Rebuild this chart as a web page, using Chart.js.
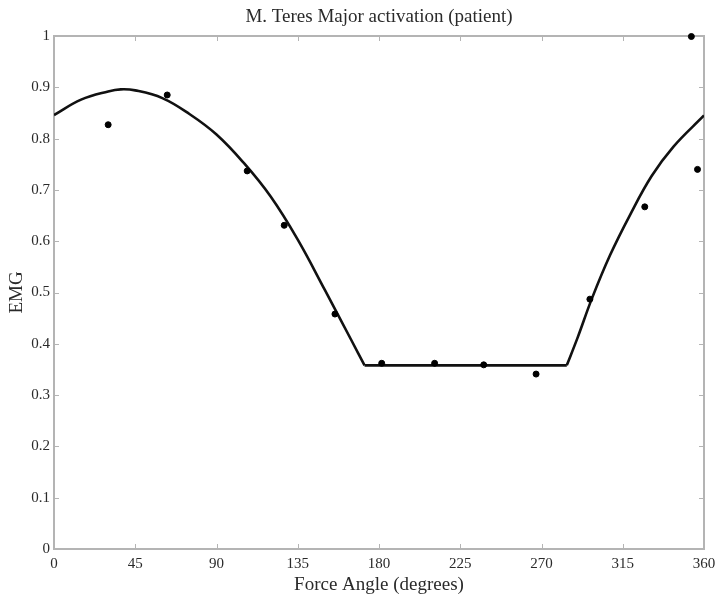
<!DOCTYPE html>
<html>
<head>
<meta charset="utf-8">
<script src="https://cdn.jsdelivr.net/npm/chart.js@4"></script>
<style>
  html, body { margin: 0; padding: 0; background: #fff; }
  #wrap { width: 716px; height: 596px; }
</style>
</head>
<body>
<div id="wrap"><canvas id="myChart"></canvas></div>
<script>
// fitted curve (falling part, floor, rising part)
const fallAngles = [0, 15, 30, 37, 45, 60, 75, 90, 105, 120, 135, 150, 165, 172];
const fallEmg = [0.846, 0.876, 0.892, 0.896, 0.894, 0.879, 0.848, 0.808, 0.753, 0.687, 0.603, 0.505, 0.405, 0.358];
const floorAngles = [172, 284];
const floorEmg = [0.358, 0.358];
const riseAngles = [284, 290, 298, 308, 319, 331, 343, 360];
const riseEmg = [0.358, 0.412, 0.489, 0.573, 0.651, 0.727, 0.784, 0.845];

// measured points
const dotAngles = [30, 62.7, 107, 127.5, 155.6, 181.5, 210.8, 238, 267, 296.8, 327.2, 353, 356.4];
const dotEmg = [0.827, 0.885, 0.737, 0.631, 0.458, 0.362, 0.362, 0.359, 0.341, 0.487, 0.667, 0.999, 0.74];

const xTicks = [0, 45, 90, 135, 180, 225, 270, 315, 360];

const chartTitle = "M. Teres Major activation (patient)";
const frameColor = "#b4b4b4";
const textColor = "#2a2a2a";
const serif = "'Liberation Serif', 'DejaVu Serif', serif";

const toPoints = (xs, ys) => xs.map((x, i) => ({ x: x, y: ys[i] }));

const curveStyle = {
    type: "line",
    borderColor: "#111",
    borderWidth: 2.6,
    pointRadius: 0,
    tension: 0.4,
    fill: false,
    order: 2,
};

// MATLAB style box with inward ticks on all four sides, title over the plot box
const boxPlugin = {
    id: "box",
    beforeDatasetsDraw(chart) {
        const { ctx, chartArea: a, scales } = chart;
        ctx.save();
        ctx.strokeStyle = frameColor;
        ctx.lineWidth = 2;
        ctx.strokeRect(a.left, a.top, a.right - a.left, a.bottom - a.top);
        ctx.lineWidth = 1;
        const len = 5;
        scales.x.ticks.forEach((t, i) => {
            const px = Math.round(scales.x.getPixelForTick(i)) + 0.5;
            ctx.beginPath();
            ctx.moveTo(px, a.bottom);
            ctx.lineTo(px, a.bottom - len);
            ctx.moveTo(px, a.top);
            ctx.lineTo(px, a.top + len);
            ctx.stroke();
        });
        scales.y.ticks.forEach((t, i) => {
            const py = Math.round(scales.y.getPixelForTick(i)) + 0.5;
            ctx.beginPath();
            ctx.moveTo(a.left, py);
            ctx.lineTo(a.left + len, py);
            ctx.moveTo(a.right, py);
            ctx.lineTo(a.right - len, py);
            ctx.stroke();
        });

        ctx.fillStyle = textColor;
        ctx.font = "19px " + serif;
        ctx.textAlign = "center";
        ctx.textBaseline = "middle";
        ctx.fillText(chartTitle, (a.left + a.right) / 2, 17);
        ctx.restore();
    },
};

const ctx = document.getElementById("myChart");
new Chart(ctx, {
    type: "scatter",
    data: {
        datasets: [
            Object.assign({ data: toPoints(fallAngles, fallEmg) }, curveStyle),
            Object.assign({ data: toPoints(floorAngles, floorEmg) }, curveStyle),
            Object.assign({ data: toPoints(riseAngles, riseEmg) }, curveStyle),
            {
                data: toPoints(dotAngles, dotEmg),
                backgroundColor: "#000",
                borderColor: "#000",
                pointRadius: 3,
                clip: false,
                order: 1,
            },
        ],
    },
    plugins: [boxPlugin],
    options: {
        responsive: true,
        maintainAspectRatio: false,
        animation: false,
        layout: { padding: { left: 0, right: 12, top: 36, bottom: 0 } },
        plugins: {
            legend: { display: false },
            tooltip: { enabled: false },
            title: { display: false },
        },
        scales: {
            x: {
                type: "linear",
                min: 0,
                max: 360,
                afterBuildTicks: (scale) => {
                    scale.ticks = xTicks.map((v) => ({ value: v }));
                },
                afterFit: (scale) => {
                    scale.height = 47;
                    scale.paddingLeft = 0;
                    scale.paddingRight = 0;
                },
                grid: { display: false, drawTicks: false },
                border: { display: false },
                ticks: {
                    color: textColor,
                    font: { family: serif, size: 15 },
                    padding: 6,
                    maxRotation: 0,
                },
                title: {
                    display: true,
                    text: "Force Angle (degrees)",
                    color: textColor,
                    font: { family: serif, size: 19 },
                    padding: { top: 0, bottom: 0 },
                },
            },
            y: {
                min: 0,
                max: 1,
                afterFit: (scale) => {
                    scale.width = 54;
                    scale.paddingTop = 0;
                    scale.paddingBottom = 0;
                },
                grid: { display: false, drawTicks: false },
                border: { display: false },
                ticks: {
                    stepSize: 0.1,
                    color: textColor,
                    font: { family: serif, size: 15 },
                    padding: 4,
                    callback: (v) => String(+v.toFixed(2)),
                },
                title: {
                    display: true,
                    text: "EMG",
                    color: textColor,
                    font: { family: serif, size: 19 },
                    padding: { top: 6, bottom: 0 },
                },
            },
        },
    },
});
</script>
</body>
</html>
